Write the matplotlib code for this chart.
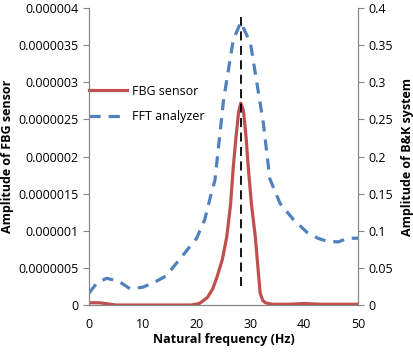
import matplotlib.pyplot as plt
import numpy as np

# 频率 (Hz)
freq_fbg = [0, 1, 2, 3, 4, 5, 8, 12, 16, 19, 20.5, 22, 23, 23.8, 24.8, 25.6, 26.3, 26.8,
            27.3, 27.8, 28.2, 28.7, 29.2, 29.6, 30.2, 30.9, 31.4, 31.8, 32.3, 32.8, 34,
            37, 40, 43, 46, 50]
amp_fbg = [0.03e-6, 0.03e-6, 0.03e-6, 0.02e-6, 0.01e-6, 0.0, 0.0, 0.0, 0.0, 0.0, 0.02e-6,
           0.1e-6, 0.22e-6, 0.38e-6, 0.62e-6, 0.92e-6, 1.35e-6, 1.85e-6, 2.25e-6, 2.6e-6,
           2.72e-6, 2.62e-6, 2.25e-6, 1.85e-6, 1.35e-6, 0.92e-6, 0.5e-6, 0.16e-6, 0.06e-6,
           0.03e-6, 0.01e-6, 0.01e-6, 0.02e-6, 0.01e-6, 0.01e-6, 0.01e-6]

freq_fft = [0, 1.5, 3.3, 5.5, 7.6, 10, 12, 14.3, 17, 20, 21.5, 22.5, 23.4, 25, 26.8,
            28.2, 30, 32.4, 33.6, 35.5, 38, 40.5, 42.5, 44.2, 46.3, 48.1, 50]
amp_fft = [0.016, 0.03, 0.036, 0.032, 0.022, 0.024, 0.03, 0.039, 0.063, 0.09, 0.115,
           0.144, 0.168, 0.276, 0.357, 0.381, 0.353, 0.245, 0.17, 0.137, 0.115, 0.098,
           0.09, 0.086, 0.085, 0.09, 0.09]

# 固有频率标记线
marker_freq = 28.2
marker_amp = [0.25e-6, 3.9e-6]

left_ticks = [0, 0.5e-6, 1e-6, 1.5e-6, 2e-6, 2.5e-6, 3e-6, 3.5e-6, 4e-6]
left_labels = ['0', '0.0000005', '0.000001', '0.0000015', '0.000002', '0.0000025',
               '0.000003', '0.0000035', '0.000004']
right_ticks = [0, 0.05, 0.1, 0.15, 0.2, 0.25, 0.3, 0.35, 0.4]
right_labels = ['0', '0.05', '0.1', '0.15', '0.2', '0.25', '0.3', '0.35', '0.4']

plt.rcParams['font.family'] = ['Open Sans', 'DejaVu Sans']
plt.rcParams['font.size'] = 9

fig = plt.figure(figsize=(4.13, 3.54), dpi=100)
ax = fig.add_axes([0.2155, 0.1384, 0.6515, 0.8386])
ax2 = ax.twinx()

ax.plot(freq_fbg, amp_fbg, color='#c0504d', linewidth=2.3, label='FBG sensor', zorder=3)
ax2.plot(freq_fft, amp_fft, color='#4f81bd', linewidth=2.3, linestyle=(0, (3.5, 2.5)),
         label='FFT analyzer')
ax.plot([marker_freq, marker_freq], marker_amp, color='black', linewidth=1.3,
        linestyle=(0, (5, 3)), zorder=4)

ax.set_xlim(0, 50)
ax.set_ylim(0, 4e-6)
ax2.set_ylim(0, 0.4)
ax.set_xticks([0, 10, 20, 30, 40, 50])
ax.set_yticks(left_ticks)
ax.set_yticklabels(left_labels)
ax2.set_yticks(right_ticks)
ax2.set_yticklabels(right_labels)

ax.set_xlabel('Natural frequency (Hz)', fontweight='bold', labelpad=2)
ax.set_ylabel('Amplitude of FBG sensor', fontweight='bold', labelpad=3)
ax2.set_ylabel('Amplitude of B&K system', fontweight='bold', labelpad=6)

for a in (ax, ax2):
    a.spines['top'].set_visible(False)
    for s in ('left', 'right', 'bottom'):
        a.spines[s].set_color('#868686')
    a.tick_params(color='#868686', length=4, width=0.8)
ax.tick_params(axis='x', length=0, pad=9)

# 图例
h1, l1 = ax.get_legend_handles_labels()
h2, l2 = ax2.get_legend_handles_labels()
ax.legend(h1 + h2, l1 + l2, loc='upper left', bbox_to_anchor=(-0.04, 0.78),
          frameon=False, handlelength=3.0, handletextpad=0.4, labelspacing=1.0,
          fontsize=9)

fig.savefig('out.png', dpi=100)
